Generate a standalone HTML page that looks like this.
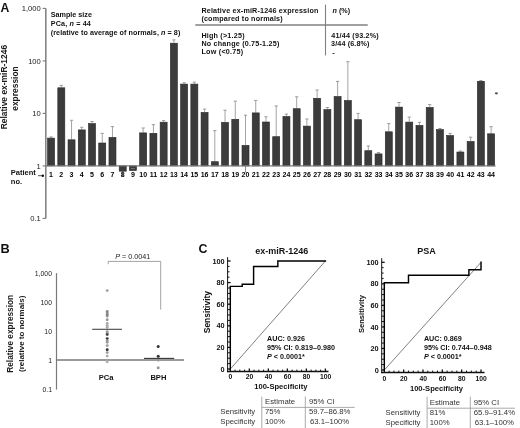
<!DOCTYPE html>
<html><head><meta charset="utf-8"><style>
html,body{margin:0;padding:0;background:#fff;}
body{width:520px;height:428px;overflow:hidden;}
svg{display:block;font-family:"Liberation Sans", sans-serif;will-change:transform;}
</style></head><body>
<svg width="520" height="428" viewBox="0 0 520 428">
<rect width="520" height="428" fill="#fff"/>
<text x="0.50" y="11.80" font-size="12.2" font-weight="bold" text-anchor="start" fill="#111" >A</text>
<line x1="45.80" y1="8.40" x2="45.80" y2="218.40" stroke="#858585" stroke-width="1.6" />
<line x1="42.60" y1="8.40" x2="45.80" y2="8.40" stroke="#7a7a7a" stroke-width="1.1" />
<text x="40.80" y="11.30" font-size="7.6" font-weight="normal" text-anchor="end" fill="#1a1a1a" >1,000</text>
<line x1="42.60" y1="60.90" x2="45.80" y2="60.90" stroke="#7a7a7a" stroke-width="1.1" />
<text x="40.80" y="63.80" font-size="7.6" font-weight="normal" text-anchor="end" fill="#1a1a1a" >100</text>
<line x1="42.60" y1="113.40" x2="45.80" y2="113.40" stroke="#7a7a7a" stroke-width="1.1" />
<text x="40.80" y="116.30" font-size="7.6" font-weight="normal" text-anchor="end" fill="#1a1a1a" >10</text>
<line x1="42.60" y1="165.90" x2="45.80" y2="165.90" stroke="#7a7a7a" stroke-width="1.1" />
<text x="40.80" y="168.80" font-size="7.6" font-weight="normal" text-anchor="end" fill="#1a1a1a" >1</text>
<line x1="42.60" y1="218.40" x2="45.80" y2="218.40" stroke="#7a7a7a" stroke-width="1.1" />
<text x="40.80" y="221.30" font-size="7.6" font-weight="normal" text-anchor="end" fill="#1a1a1a" >0.1</text>
<text transform="translate(7.2,87.1) rotate(-90)" font-size="8.45" font-weight="bold" text-anchor="middle" fill="#1a1a1a">Relative ex-miR-1246</text>
<text transform="translate(17.5,88.5) rotate(-90)" font-size="8.45" font-weight="bold" text-anchor="middle" fill="#1a1a1a">expression</text>
<line x1="51.07" y1="137.80" x2="51.07" y2="136.90" stroke="#9a9a9a" stroke-width="0.9" />
<line x1="49.47" y1="136.90" x2="52.67" y2="136.90" stroke="#9a9a9a" stroke-width="1.0" />
<rect x="47.57" y="138.10" width="7.0" height="27.80" fill="#3c3c3c" stroke="#262626" stroke-width="0.6"/>
<text x="51.07" y="177.00" font-size="7.0" font-weight="bold" text-anchor="middle" fill="#000" >1</text>
<line x1="61.31" y1="87.50" x2="61.31" y2="85.40" stroke="#9a9a9a" stroke-width="0.9" />
<line x1="59.71" y1="85.40" x2="62.91" y2="85.40" stroke="#9a9a9a" stroke-width="1.0" />
<rect x="57.81" y="87.80" width="7.0" height="78.10" fill="#3c3c3c" stroke="#262626" stroke-width="0.6"/>
<text x="61.31" y="177.00" font-size="7.0" font-weight="bold" text-anchor="middle" fill="#000" >2</text>
<line x1="71.54" y1="139.50" x2="71.54" y2="120.30" stroke="#9a9a9a" stroke-width="0.9" />
<line x1="69.94" y1="120.30" x2="73.14" y2="120.30" stroke="#9a9a9a" stroke-width="1.0" />
<rect x="68.04" y="139.80" width="7.0" height="26.10" fill="#3c3c3c" stroke="#262626" stroke-width="0.6"/>
<text x="71.54" y="177.00" font-size="7.0" font-weight="bold" text-anchor="middle" fill="#000" >3</text>
<line x1="81.77" y1="129.60" x2="81.77" y2="127.30" stroke="#9a9a9a" stroke-width="0.9" />
<line x1="80.17" y1="127.30" x2="83.37" y2="127.30" stroke="#9a9a9a" stroke-width="1.0" />
<rect x="78.27" y="129.90" width="7.0" height="36.00" fill="#3c3c3c" stroke="#262626" stroke-width="0.6"/>
<text x="81.77" y="177.00" font-size="7.0" font-weight="bold" text-anchor="middle" fill="#000" >4</text>
<line x1="92.01" y1="123.30" x2="92.01" y2="121.50" stroke="#9a9a9a" stroke-width="0.9" />
<line x1="90.41" y1="121.50" x2="93.61" y2="121.50" stroke="#9a9a9a" stroke-width="1.0" />
<rect x="88.51" y="123.60" width="7.0" height="42.30" fill="#3c3c3c" stroke="#262626" stroke-width="0.6"/>
<text x="92.01" y="177.00" font-size="7.0" font-weight="bold" text-anchor="middle" fill="#000" >5</text>
<line x1="102.24" y1="142.70" x2="102.24" y2="133.40" stroke="#9a9a9a" stroke-width="0.9" />
<line x1="100.64" y1="133.40" x2="103.84" y2="133.40" stroke="#9a9a9a" stroke-width="1.0" />
<rect x="98.74" y="143.00" width="7.0" height="22.90" fill="#3c3c3c" stroke="#262626" stroke-width="0.6"/>
<text x="102.24" y="177.00" font-size="7.0" font-weight="bold" text-anchor="middle" fill="#000" >6</text>
<line x1="112.47" y1="137.10" x2="112.47" y2="126.60" stroke="#9a9a9a" stroke-width="0.9" />
<line x1="110.87" y1="126.60" x2="114.07" y2="126.60" stroke="#9a9a9a" stroke-width="1.0" />
<rect x="108.97" y="137.40" width="7.0" height="28.50" fill="#3c3c3c" stroke="#262626" stroke-width="0.6"/>
<text x="112.47" y="177.00" font-size="7.0" font-weight="bold" text-anchor="middle" fill="#000" >7</text>
<rect x="119.21" y="165.90" width="7.0" height="5.30" fill="#3c3c3c" stroke="#262626" stroke-width="0.6"/>
<text x="122.71" y="177.00" font-size="7.0" font-weight="bold" text-anchor="middle" fill="#000" >8</text>
<rect x="129.44" y="165.90" width="7.0" height="4.60" fill="#3c3c3c" stroke="#262626" stroke-width="0.6"/>
<line x1="131.14" y1="168.60" x2="134.74" y2="168.60" stroke="#8a8a8a" stroke-width="0.8" />
<text x="132.94" y="177.00" font-size="7.0" font-weight="bold" text-anchor="middle" fill="#000" >9</text>
<line x1="143.18" y1="132.60" x2="143.18" y2="128.00" stroke="#9a9a9a" stroke-width="0.9" />
<line x1="141.58" y1="128.00" x2="144.78" y2="128.00" stroke="#9a9a9a" stroke-width="1.0" />
<rect x="139.68" y="132.90" width="7.0" height="33.00" fill="#3c3c3c" stroke="#262626" stroke-width="0.6"/>
<text x="143.18" y="177.00" font-size="7.0" font-weight="bold" text-anchor="middle" fill="#000" >10</text>
<line x1="153.41" y1="133.00" x2="153.41" y2="124.70" stroke="#9a9a9a" stroke-width="0.9" />
<line x1="151.81" y1="124.70" x2="155.01" y2="124.70" stroke="#9a9a9a" stroke-width="1.0" />
<rect x="149.91" y="133.30" width="7.0" height="32.60" fill="#3c3c3c" stroke="#262626" stroke-width="0.6"/>
<text x="153.41" y="177.00" font-size="7.0" font-weight="bold" text-anchor="middle" fill="#000" >11</text>
<line x1="163.64" y1="121.90" x2="163.64" y2="120.60" stroke="#9a9a9a" stroke-width="0.9" />
<line x1="162.04" y1="120.60" x2="165.24" y2="120.60" stroke="#9a9a9a" stroke-width="1.0" />
<rect x="160.14" y="122.20" width="7.0" height="43.70" fill="#3c3c3c" stroke="#262626" stroke-width="0.6"/>
<text x="163.64" y="177.00" font-size="7.0" font-weight="bold" text-anchor="middle" fill="#000" >12</text>
<line x1="173.88" y1="42.90" x2="173.88" y2="39.90" stroke="#9a9a9a" stroke-width="0.9" />
<line x1="172.28" y1="39.90" x2="175.48" y2="39.90" stroke="#9a9a9a" stroke-width="1.0" />
<rect x="170.38" y="43.20" width="7.0" height="122.70" fill="#3c3c3c" stroke="#262626" stroke-width="0.6"/>
<text x="173.88" y="177.00" font-size="7.0" font-weight="bold" text-anchor="middle" fill="#000" >13</text>
<line x1="184.11" y1="83.80" x2="184.11" y2="82.80" stroke="#9a9a9a" stroke-width="0.9" />
<line x1="182.51" y1="82.80" x2="185.71" y2="82.80" stroke="#9a9a9a" stroke-width="1.0" />
<rect x="180.61" y="84.10" width="7.0" height="81.80" fill="#3c3c3c" stroke="#262626" stroke-width="0.6"/>
<text x="184.11" y="177.00" font-size="7.0" font-weight="bold" text-anchor="middle" fill="#000" >14</text>
<line x1="194.34" y1="83.80" x2="194.34" y2="82.10" stroke="#9a9a9a" stroke-width="0.9" />
<line x1="192.74" y1="82.10" x2="195.94" y2="82.10" stroke="#9a9a9a" stroke-width="1.0" />
<rect x="190.84" y="84.10" width="7.0" height="81.80" fill="#3c3c3c" stroke="#262626" stroke-width="0.6"/>
<text x="194.34" y="177.00" font-size="7.0" font-weight="bold" text-anchor="middle" fill="#000" >15</text>
<line x1="204.58" y1="112.10" x2="204.58" y2="109.10" stroke="#9a9a9a" stroke-width="0.9" />
<line x1="202.98" y1="109.10" x2="206.18" y2="109.10" stroke="#9a9a9a" stroke-width="1.0" />
<rect x="201.08" y="112.40" width="7.0" height="53.50" fill="#3c3c3c" stroke="#262626" stroke-width="0.6"/>
<text x="204.58" y="177.00" font-size="7.0" font-weight="bold" text-anchor="middle" fill="#000" >16</text>
<line x1="214.81" y1="161.40" x2="214.81" y2="130.60" stroke="#9a9a9a" stroke-width="0.9" />
<line x1="213.21" y1="130.60" x2="216.41" y2="130.60" stroke="#9a9a9a" stroke-width="1.0" />
<rect x="211.31" y="161.70" width="7.0" height="4.20" fill="#3c3c3c" stroke="#262626" stroke-width="0.6"/>
<text x="214.81" y="177.00" font-size="7.0" font-weight="bold" text-anchor="middle" fill="#000" >17</text>
<line x1="225.04" y1="122.10" x2="225.04" y2="110.20" stroke="#9a9a9a" stroke-width="0.9" />
<line x1="223.44" y1="110.20" x2="226.64" y2="110.20" stroke="#9a9a9a" stroke-width="1.0" />
<rect x="221.54" y="122.40" width="7.0" height="43.50" fill="#3c3c3c" stroke="#262626" stroke-width="0.6"/>
<text x="225.04" y="177.00" font-size="7.0" font-weight="bold" text-anchor="middle" fill="#000" >18</text>
<line x1="235.28" y1="119.00" x2="235.28" y2="101.20" stroke="#9a9a9a" stroke-width="0.9" />
<line x1="233.68" y1="101.20" x2="236.88" y2="101.20" stroke="#9a9a9a" stroke-width="1.0" />
<rect x="231.78" y="119.30" width="7.0" height="46.60" fill="#3c3c3c" stroke="#262626" stroke-width="0.6"/>
<text x="235.28" y="177.00" font-size="7.0" font-weight="bold" text-anchor="middle" fill="#000" >19</text>
<line x1="245.51" y1="145.10" x2="245.51" y2="115.20" stroke="#9a9a9a" stroke-width="0.9" />
<line x1="243.91" y1="115.20" x2="247.11" y2="115.20" stroke="#9a9a9a" stroke-width="1.0" />
<rect x="242.01" y="145.40" width="7.0" height="20.50" fill="#3c3c3c" stroke="#262626" stroke-width="0.6"/>
<text x="245.51" y="177.00" font-size="7.0" font-weight="bold" text-anchor="middle" fill="#000" >20</text>
<line x1="255.74" y1="112.60" x2="255.74" y2="100.40" stroke="#9a9a9a" stroke-width="0.9" />
<line x1="254.14" y1="100.40" x2="257.34" y2="100.40" stroke="#9a9a9a" stroke-width="1.0" />
<rect x="252.24" y="112.90" width="7.0" height="53.00" fill="#3c3c3c" stroke="#262626" stroke-width="0.6"/>
<text x="255.74" y="177.00" font-size="7.0" font-weight="bold" text-anchor="middle" fill="#000" >21</text>
<line x1="265.98" y1="121.70" x2="265.98" y2="116.80" stroke="#9a9a9a" stroke-width="0.9" />
<line x1="264.38" y1="116.80" x2="267.58" y2="116.80" stroke="#9a9a9a" stroke-width="1.0" />
<rect x="262.48" y="122.00" width="7.0" height="43.90" fill="#3c3c3c" stroke="#262626" stroke-width="0.6"/>
<text x="265.98" y="177.00" font-size="7.0" font-weight="bold" text-anchor="middle" fill="#000" >22</text>
<line x1="276.21" y1="136.40" x2="276.21" y2="105.90" stroke="#9a9a9a" stroke-width="0.9" />
<line x1="274.61" y1="105.90" x2="277.81" y2="105.90" stroke="#9a9a9a" stroke-width="1.0" />
<rect x="272.71" y="136.70" width="7.0" height="29.20" fill="#3c3c3c" stroke="#262626" stroke-width="0.6"/>
<text x="276.21" y="177.00" font-size="7.0" font-weight="bold" text-anchor="middle" fill="#000" >23</text>
<line x1="286.44" y1="116.20" x2="286.44" y2="114.10" stroke="#9a9a9a" stroke-width="0.9" />
<line x1="284.84" y1="114.10" x2="288.04" y2="114.10" stroke="#9a9a9a" stroke-width="1.0" />
<rect x="282.94" y="116.50" width="7.0" height="49.40" fill="#3c3c3c" stroke="#262626" stroke-width="0.6"/>
<text x="286.44" y="177.00" font-size="7.0" font-weight="bold" text-anchor="middle" fill="#000" >24</text>
<line x1="296.68" y1="108.40" x2="296.68" y2="96.80" stroke="#9a9a9a" stroke-width="0.9" />
<line x1="295.08" y1="96.80" x2="298.28" y2="96.80" stroke="#9a9a9a" stroke-width="1.0" />
<rect x="293.18" y="108.70" width="7.0" height="57.20" fill="#3c3c3c" stroke="#262626" stroke-width="0.6"/>
<text x="296.68" y="177.00" font-size="7.0" font-weight="bold" text-anchor="middle" fill="#000" >25</text>
<line x1="306.91" y1="125.80" x2="306.91" y2="119.00" stroke="#9a9a9a" stroke-width="0.9" />
<line x1="305.31" y1="119.00" x2="308.51" y2="119.00" stroke="#9a9a9a" stroke-width="1.0" />
<rect x="303.41" y="126.10" width="7.0" height="39.80" fill="#3c3c3c" stroke="#262626" stroke-width="0.6"/>
<text x="306.91" y="177.00" font-size="7.0" font-weight="bold" text-anchor="middle" fill="#000" >26</text>
<line x1="317.14" y1="98.00" x2="317.14" y2="90.00" stroke="#9a9a9a" stroke-width="0.9" />
<line x1="315.54" y1="90.00" x2="318.74" y2="90.00" stroke="#9a9a9a" stroke-width="1.0" />
<rect x="313.64" y="98.30" width="7.0" height="67.60" fill="#3c3c3c" stroke="#262626" stroke-width="0.6"/>
<text x="317.14" y="177.00" font-size="7.0" font-weight="bold" text-anchor="middle" fill="#000" >27</text>
<line x1="327.38" y1="109.30" x2="327.38" y2="107.50" stroke="#9a9a9a" stroke-width="0.9" />
<line x1="325.78" y1="107.50" x2="328.98" y2="107.50" stroke="#9a9a9a" stroke-width="1.0" />
<rect x="323.88" y="109.60" width="7.0" height="56.30" fill="#3c3c3c" stroke="#262626" stroke-width="0.6"/>
<text x="327.38" y="177.00" font-size="7.0" font-weight="bold" text-anchor="middle" fill="#000" >28</text>
<line x1="337.61" y1="96.20" x2="337.61" y2="81.40" stroke="#9a9a9a" stroke-width="0.9" />
<line x1="336.01" y1="81.40" x2="339.21" y2="81.40" stroke="#9a9a9a" stroke-width="1.0" />
<rect x="334.11" y="96.50" width="7.0" height="69.40" fill="#3c3c3c" stroke="#262626" stroke-width="0.6"/>
<text x="337.61" y="177.00" font-size="7.0" font-weight="bold" text-anchor="middle" fill="#000" >29</text>
<line x1="347.85" y1="100.20" x2="347.85" y2="61.70" stroke="#9a9a9a" stroke-width="0.9" />
<line x1="346.25" y1="61.70" x2="349.45" y2="61.70" stroke="#9a9a9a" stroke-width="1.0" />
<rect x="344.35" y="100.50" width="7.0" height="65.40" fill="#3c3c3c" stroke="#262626" stroke-width="0.6"/>
<text x="347.85" y="177.00" font-size="7.0" font-weight="bold" text-anchor="middle" fill="#000" >30</text>
<line x1="358.08" y1="119.40" x2="358.08" y2="113.40" stroke="#9a9a9a" stroke-width="0.9" />
<line x1="356.48" y1="113.40" x2="359.68" y2="113.40" stroke="#9a9a9a" stroke-width="1.0" />
<rect x="354.58" y="119.70" width="7.0" height="46.20" fill="#3c3c3c" stroke="#262626" stroke-width="0.6"/>
<text x="358.08" y="177.00" font-size="7.0" font-weight="bold" text-anchor="middle" fill="#000" >31</text>
<line x1="368.31" y1="150.40" x2="368.31" y2="146.00" stroke="#9a9a9a" stroke-width="0.9" />
<line x1="366.71" y1="146.00" x2="369.91" y2="146.00" stroke="#9a9a9a" stroke-width="1.0" />
<rect x="364.81" y="150.70" width="7.0" height="15.20" fill="#3c3c3c" stroke="#262626" stroke-width="0.6"/>
<text x="368.31" y="177.00" font-size="7.0" font-weight="bold" text-anchor="middle" fill="#000" >32</text>
<line x1="378.55" y1="153.60" x2="378.55" y2="152.60" stroke="#9a9a9a" stroke-width="0.9" />
<line x1="376.95" y1="152.60" x2="380.15" y2="152.60" stroke="#9a9a9a" stroke-width="1.0" />
<rect x="375.05" y="153.90" width="7.0" height="12.00" fill="#3c3c3c" stroke="#262626" stroke-width="0.6"/>
<text x="378.55" y="177.00" font-size="7.0" font-weight="bold" text-anchor="middle" fill="#000" >33</text>
<line x1="388.78" y1="131.50" x2="388.78" y2="123.60" stroke="#9a9a9a" stroke-width="0.9" />
<line x1="387.18" y1="123.60" x2="390.38" y2="123.60" stroke="#9a9a9a" stroke-width="1.0" />
<rect x="385.28" y="131.80" width="7.0" height="34.10" fill="#3c3c3c" stroke="#262626" stroke-width="0.6"/>
<text x="388.78" y="177.00" font-size="7.0" font-weight="bold" text-anchor="middle" fill="#000" >34</text>
<line x1="399.01" y1="106.80" x2="399.01" y2="102.50" stroke="#9a9a9a" stroke-width="0.9" />
<line x1="397.41" y1="102.50" x2="400.61" y2="102.50" stroke="#9a9a9a" stroke-width="1.0" />
<rect x="395.51" y="107.10" width="7.0" height="58.80" fill="#3c3c3c" stroke="#262626" stroke-width="0.6"/>
<text x="399.01" y="177.00" font-size="7.0" font-weight="bold" text-anchor="middle" fill="#000" >35</text>
<line x1="409.25" y1="121.80" x2="409.25" y2="117.10" stroke="#9a9a9a" stroke-width="0.9" />
<line x1="407.65" y1="117.10" x2="410.85" y2="117.10" stroke="#9a9a9a" stroke-width="1.0" />
<rect x="405.75" y="122.10" width="7.0" height="43.80" fill="#3c3c3c" stroke="#262626" stroke-width="0.6"/>
<text x="409.25" y="177.00" font-size="7.0" font-weight="bold" text-anchor="middle" fill="#000" >36</text>
<line x1="419.48" y1="125.10" x2="419.48" y2="122.30" stroke="#9a9a9a" stroke-width="0.9" />
<line x1="417.88" y1="122.30" x2="421.08" y2="122.30" stroke="#9a9a9a" stroke-width="1.0" />
<rect x="415.98" y="125.40" width="7.0" height="40.50" fill="#3c3c3c" stroke="#262626" stroke-width="0.6"/>
<text x="419.48" y="177.00" font-size="7.0" font-weight="bold" text-anchor="middle" fill="#000" >37</text>
<line x1="429.71" y1="107.20" x2="429.71" y2="104.60" stroke="#9a9a9a" stroke-width="0.9" />
<line x1="428.11" y1="104.60" x2="431.31" y2="104.60" stroke="#9a9a9a" stroke-width="1.0" />
<rect x="426.21" y="107.50" width="7.0" height="58.40" fill="#3c3c3c" stroke="#262626" stroke-width="0.6"/>
<text x="429.71" y="177.00" font-size="7.0" font-weight="bold" text-anchor="middle" fill="#000" >38</text>
<line x1="439.95" y1="129.30" x2="439.95" y2="128.50" stroke="#9a9a9a" stroke-width="0.9" />
<line x1="438.35" y1="128.50" x2="441.55" y2="128.50" stroke="#9a9a9a" stroke-width="1.0" />
<rect x="436.45" y="129.60" width="7.0" height="36.30" fill="#3c3c3c" stroke="#262626" stroke-width="0.6"/>
<text x="439.95" y="177.00" font-size="7.0" font-weight="bold" text-anchor="middle" fill="#000" >39</text>
<line x1="450.18" y1="135.20" x2="450.18" y2="133.40" stroke="#9a9a9a" stroke-width="0.9" />
<line x1="448.58" y1="133.40" x2="451.78" y2="133.40" stroke="#9a9a9a" stroke-width="1.0" />
<rect x="446.68" y="135.50" width="7.0" height="30.40" fill="#3c3c3c" stroke="#262626" stroke-width="0.6"/>
<text x="450.18" y="177.00" font-size="7.0" font-weight="bold" text-anchor="middle" fill="#000" >40</text>
<line x1="460.41" y1="151.70" x2="460.41" y2="151.00" stroke="#9a9a9a" stroke-width="0.9" />
<line x1="458.81" y1="151.00" x2="462.01" y2="151.00" stroke="#9a9a9a" stroke-width="1.0" />
<rect x="456.91" y="152.00" width="7.0" height="13.90" fill="#3c3c3c" stroke="#262626" stroke-width="0.6"/>
<text x="460.41" y="177.00" font-size="7.0" font-weight="bold" text-anchor="middle" fill="#000" >41</text>
<line x1="470.65" y1="141.20" x2="470.65" y2="137.20" stroke="#9a9a9a" stroke-width="0.9" />
<line x1="469.05" y1="137.20" x2="472.25" y2="137.20" stroke="#9a9a9a" stroke-width="1.0" />
<rect x="467.15" y="141.50" width="7.0" height="24.40" fill="#3c3c3c" stroke="#262626" stroke-width="0.6"/>
<text x="470.65" y="177.00" font-size="7.0" font-weight="bold" text-anchor="middle" fill="#000" >42</text>
<line x1="479.28" y1="80.50" x2="482.48" y2="80.50" stroke="#9a9a9a" stroke-width="1.0" />
<rect x="477.38" y="81.30" width="7.0" height="84.60" fill="#3c3c3c" stroke="#262626" stroke-width="0.6"/>
<text x="480.88" y="177.00" font-size="7.0" font-weight="bold" text-anchor="middle" fill="#000" >43</text>
<line x1="491.11" y1="133.50" x2="491.11" y2="126.70" stroke="#9a9a9a" stroke-width="0.9" />
<line x1="489.51" y1="126.70" x2="492.71" y2="126.70" stroke="#9a9a9a" stroke-width="1.0" />
<rect x="487.61" y="133.80" width="7.0" height="32.10" fill="#3c3c3c" stroke="#262626" stroke-width="0.6"/>
<text x="491.11" y="177.00" font-size="7.0" font-weight="bold" text-anchor="middle" fill="#000" >44</text>
<line x1="122.71" y1="171.30" x2="122.71" y2="176.20" stroke="#444" stroke-width="1.0" />
<line x1="245.51" y1="165.90" x2="245.51" y2="172.60" stroke="#808080" stroke-width="0.9" />
<line x1="45.80" y1="165.90" x2="495.60" y2="165.90" stroke="#7a7a7a" stroke-width="1.3" />
<text x="10.80" y="175.30" font-size="7.5" font-weight="bold" text-anchor="start" fill="#111" >Patient</text>
<text x="10.80" y="184.10" font-size="7.5" font-weight="bold" text-anchor="start" fill="#111" >no.</text>
<line x1="38.00" y1="175.70" x2="42.40" y2="175.70" stroke="#555" stroke-width="1.0" />
<circle cx="42.8" cy="175.8" r="1.25" fill="#111"/>
<ellipse cx="496.4" cy="93.3" rx="1.6" ry="1.1" fill="#555"/>
<text x="50.80" y="16.90" font-size="7.2" font-weight="bold" text-anchor="start" fill="#111" >Sample size</text>
<text x="50.80" y="25.70" font-size="7.2" font-weight="bold" text-anchor="start" fill="#111" letter-spacing="0.15">PCa, <tspan font-style="italic">n</tspan> = 44</text>
<text x="50.80" y="34.60" font-size="7.2" font-weight="bold" text-anchor="start" fill="#111" letter-spacing="0.06">(relative to average of normals, <tspan font-style="italic">n</tspan> = 8)</text>
<text x="201.40" y="12.60" font-size="7.2" font-weight="bold" text-anchor="start" fill="#111" letter-spacing="0.17">Relative ex-miR-1246 expression</text>
<text x="201.40" y="20.60" font-size="7.2" font-weight="bold" text-anchor="start" fill="#111" letter-spacing="0.17">(compared to normals)</text>
<text x="332.60" y="13.10" font-size="7.2" font-weight="bold" text-anchor="start" fill="#111" ><tspan font-style="italic">n</tspan> (%)</text>
<line x1="195.30" y1="25.00" x2="367.70" y2="25.00" stroke="#808080" stroke-width="1.4" />
<line x1="325.50" y1="4.60" x2="325.50" y2="55.40" stroke="#808080" stroke-width="1.1" />
<text x="201.40" y="37.90" font-size="7.2" font-weight="bold" text-anchor="start" fill="#111" letter-spacing="0.2">High (&gt;1.25)</text>
<text x="201.40" y="46.10" font-size="7.2" font-weight="bold" text-anchor="start" fill="#111" letter-spacing="0.2">No change (0.75-1.25)</text>
<text x="201.40" y="54.30" font-size="7.2" font-weight="bold" text-anchor="start" fill="#111" letter-spacing="0.25">Low (&lt;0.75)</text>
<text x="331.20" y="38.20" font-size="7.2" font-weight="bold" text-anchor="start" fill="#111" letter-spacing="0.2">41/44 (93.2%)</text>
<text x="331.00" y="46.40" font-size="7.2" font-weight="bold" text-anchor="start" fill="#111" letter-spacing="0.13">3/44 (6.8%)</text>
<text x="332.20" y="54.60" font-size="7.2" font-weight="bold" text-anchor="start" fill="#111" >-</text>
<text x="0.60" y="252.80" font-size="12.8" font-weight="bold" text-anchor="start" fill="#111" >B</text>
<line x1="56.50" y1="273.10" x2="56.50" y2="389.60" stroke="#7a7a7a" stroke-width="1.2" />
<text x="52.00" y="276.10" font-size="6.9" font-weight="normal" text-anchor="end" fill="#1e1e1e" >1,000</text>
<text x="52.00" y="305.10" font-size="6.9" font-weight="normal" text-anchor="end" fill="#1e1e1e" >100</text>
<text x="52.00" y="334.10" font-size="6.9" font-weight="normal" text-anchor="end" fill="#1e1e1e" >10</text>
<text x="52.00" y="363.10" font-size="6.9" font-weight="normal" text-anchor="end" fill="#1e1e1e" >1</text>
<text x="52.00" y="392.10" font-size="6.9" font-weight="normal" text-anchor="end" fill="#1e1e1e" >0.1</text>
<line x1="56.50" y1="360.00" x2="184.00" y2="360.00" stroke="#7a7a7a" stroke-width="1.3" />
<text transform="translate(13.0,333.8) rotate(-90)" font-size="8.3" font-weight="bold" text-anchor="middle" fill="#1a1a1a">Relative expression</text>
<text transform="translate(24.2,333.8) rotate(-90)" font-size="8.0" font-weight="bold" text-anchor="middle" fill="#1a1a1a">(relative to normals)</text>
<circle cx="107.2" cy="290.6" r="1.45" fill="#a0a0a0"/>
<circle cx="107.2" cy="311.5" r="1.45" fill="#8a8a8a"/>
<circle cx="107.2" cy="313.0" r="1.45" fill="#8a8a8a"/>
<circle cx="107.2" cy="314.5" r="1.45" fill="#8a8a8a"/>
<circle cx="107.2" cy="316.0" r="1.45" fill="#8a8a8a"/>
<circle cx="107.2" cy="319.7" r="1.45" fill="#999"/>
<circle cx="107.2" cy="323.5" r="1.45" fill="#aaa"/>
<circle cx="107.2" cy="325.5" r="1.45" fill="#aaa"/>
<circle cx="107.2" cy="327.3" r="1.45" fill="#aaa"/>
<circle cx="107.2" cy="331.6" r="1.45" fill="#999"/>
<circle cx="107.2" cy="333.2" r="1.45" fill="#999"/>
<circle cx="107.2" cy="334.6" r="1.45" fill="#444"/>
<circle cx="107.2" cy="338.6" r="1.45" fill="#333"/>
<circle cx="107.2" cy="340.7" r="1.45" fill="#999"/>
<circle cx="107.2" cy="342.2" r="1.45" fill="#999"/>
<circle cx="107.2" cy="345.6" r="1.45" fill="#999"/>
<circle cx="107.2" cy="349.8" r="1.45" fill="#333"/>
<circle cx="107.2" cy="352.6" r="1.45" fill="#999"/>
<circle cx="107.2" cy="356.1" r="1.45" fill="#aaa"/>
<circle cx="107.2" cy="361.7" r="1.45" fill="#b0b0b0"/>
<line x1="92.20" y1="329.30" x2="121.90" y2="329.30" stroke="#444" stroke-width="1.1" />
<circle cx="158.2" cy="346.4" r="1.5" fill="#333"/>
<circle cx="158.2" cy="356.2" r="1.5" fill="#333"/>
<circle cx="158.2" cy="360.1" r="1.5" fill="#999"/>
<circle cx="158.2" cy="367.7" r="1.5" fill="#999"/>
<line x1="144.00" y1="358.40" x2="174.20" y2="358.40" stroke="#333" stroke-width="1.1" />
<polyline points="108.2,264.2 108.2,261.4 160.7,261.4 160.7,309.6" fill="none" stroke="#999" stroke-width="0.9"/>
<text x="115.20" y="258.80" font-size="7.2" font-weight="normal" text-anchor="start" fill="#222" ><tspan font-style="italic">P</tspan> = 0.0041</text>
<text x="106.10" y="379.80" font-size="7.6" font-weight="bold" text-anchor="middle" fill="#111" >PCa</text>
<text x="158.40" y="379.80" font-size="7.6" font-weight="bold" text-anchor="middle" fill="#111" >BPH</text>
<text x="198.40" y="253.00" font-size="12.4" font-weight="bold" text-anchor="start" fill="#111" >C</text>
<text x="281.80" y="254.00" font-size="9.0" font-weight="bold" text-anchor="middle" fill="#111" >ex-miR-1246</text>
<line x1="227.60" y1="257.20" x2="227.60" y2="372.20" stroke="#111" stroke-width="1.0" />
<line x1="227.10" y1="371.50" x2="328.50" y2="371.50" stroke="#111" stroke-width="1.5" />
<line x1="227.60" y1="369.00" x2="230.60" y2="369.00" stroke="#111" stroke-width="1.3" />
<line x1="230.30" y1="371.50" x2="230.30" y2="368.50" stroke="#111" stroke-width="1.3" />
<line x1="227.60" y1="363.60" x2="230.30" y2="363.60" stroke="#111" stroke-width="1.0" />
<line x1="235.06" y1="371.50" x2="235.06" y2="369.60" stroke="#111" stroke-width="1.0" />
<line x1="227.60" y1="358.20" x2="230.30" y2="358.20" stroke="#111" stroke-width="1.0" />
<line x1="239.81" y1="371.50" x2="239.81" y2="369.60" stroke="#111" stroke-width="1.0" />
<line x1="227.60" y1="352.80" x2="230.30" y2="352.80" stroke="#111" stroke-width="1.0" />
<line x1="244.56" y1="371.50" x2="244.56" y2="369.60" stroke="#111" stroke-width="1.0" />
<line x1="227.60" y1="347.40" x2="230.60" y2="347.40" stroke="#111" stroke-width="1.3" />
<line x1="249.32" y1="371.50" x2="249.32" y2="368.50" stroke="#111" stroke-width="1.3" />
<line x1="227.60" y1="342.00" x2="230.30" y2="342.00" stroke="#111" stroke-width="1.0" />
<line x1="254.08" y1="371.50" x2="254.08" y2="369.60" stroke="#111" stroke-width="1.0" />
<line x1="227.60" y1="336.60" x2="230.30" y2="336.60" stroke="#111" stroke-width="1.0" />
<line x1="258.83" y1="371.50" x2="258.83" y2="369.60" stroke="#111" stroke-width="1.0" />
<line x1="227.60" y1="331.20" x2="230.30" y2="331.20" stroke="#111" stroke-width="1.0" />
<line x1="263.59" y1="371.50" x2="263.59" y2="369.60" stroke="#111" stroke-width="1.0" />
<line x1="227.60" y1="325.80" x2="230.60" y2="325.80" stroke="#111" stroke-width="1.3" />
<line x1="268.34" y1="371.50" x2="268.34" y2="368.50" stroke="#111" stroke-width="1.3" />
<line x1="227.60" y1="320.40" x2="230.30" y2="320.40" stroke="#111" stroke-width="1.0" />
<line x1="273.10" y1="371.50" x2="273.10" y2="369.60" stroke="#111" stroke-width="1.0" />
<line x1="227.60" y1="315.00" x2="230.30" y2="315.00" stroke="#111" stroke-width="1.0" />
<line x1="277.85" y1="371.50" x2="277.85" y2="369.60" stroke="#111" stroke-width="1.0" />
<line x1="227.60" y1="309.60" x2="230.30" y2="309.60" stroke="#111" stroke-width="1.0" />
<line x1="282.61" y1="371.50" x2="282.61" y2="369.60" stroke="#111" stroke-width="1.0" />
<line x1="227.60" y1="304.20" x2="230.60" y2="304.20" stroke="#111" stroke-width="1.3" />
<line x1="287.36" y1="371.50" x2="287.36" y2="368.50" stroke="#111" stroke-width="1.3" />
<line x1="227.60" y1="298.80" x2="230.30" y2="298.80" stroke="#111" stroke-width="1.0" />
<line x1="292.12" y1="371.50" x2="292.12" y2="369.60" stroke="#111" stroke-width="1.0" />
<line x1="227.60" y1="293.40" x2="230.30" y2="293.40" stroke="#111" stroke-width="1.0" />
<line x1="296.87" y1="371.50" x2="296.87" y2="369.60" stroke="#111" stroke-width="1.0" />
<line x1="227.60" y1="288.00" x2="230.30" y2="288.00" stroke="#111" stroke-width="1.0" />
<line x1="301.62" y1="371.50" x2="301.62" y2="369.60" stroke="#111" stroke-width="1.0" />
<line x1="227.60" y1="282.60" x2="230.60" y2="282.60" stroke="#111" stroke-width="1.3" />
<line x1="306.38" y1="371.50" x2="306.38" y2="368.50" stroke="#111" stroke-width="1.3" />
<line x1="227.60" y1="277.20" x2="229.50" y2="277.20" stroke="#111" stroke-width="1.0" />
<line x1="311.13" y1="371.50" x2="311.13" y2="369.60" stroke="#111" stroke-width="1.0" />
<line x1="227.60" y1="271.80" x2="229.50" y2="271.80" stroke="#111" stroke-width="1.0" />
<line x1="315.89" y1="371.50" x2="315.89" y2="369.60" stroke="#111" stroke-width="1.0" />
<line x1="227.60" y1="266.40" x2="229.50" y2="266.40" stroke="#111" stroke-width="1.0" />
<line x1="320.64" y1="371.50" x2="320.64" y2="369.60" stroke="#111" stroke-width="1.0" />
<line x1="227.60" y1="261.00" x2="230.60" y2="261.00" stroke="#111" stroke-width="1.3" />
<line x1="325.40" y1="371.50" x2="325.40" y2="368.50" stroke="#111" stroke-width="1.3" />
<text x="224.60" y="371.60" font-size="7.3" font-weight="bold" text-anchor="end" fill="#111" >0</text>
<text x="230.50" y="379.20" font-size="6.8" font-weight="bold" text-anchor="middle" fill="#111" >0</text>
<text x="224.60" y="350.00" font-size="7.3" font-weight="bold" text-anchor="end" fill="#111" >20</text>
<text x="249.52" y="379.20" font-size="6.8" font-weight="bold" text-anchor="middle" fill="#111" >20</text>
<text x="224.60" y="328.40" font-size="7.3" font-weight="bold" text-anchor="end" fill="#111" >40</text>
<text x="268.54" y="379.20" font-size="6.8" font-weight="bold" text-anchor="middle" fill="#111" >40</text>
<text x="224.60" y="306.80" font-size="7.3" font-weight="bold" text-anchor="end" fill="#111" >60</text>
<text x="287.56" y="379.20" font-size="6.8" font-weight="bold" text-anchor="middle" fill="#111" >60</text>
<text x="224.60" y="285.20" font-size="7.3" font-weight="bold" text-anchor="end" fill="#111" >80</text>
<text x="306.58" y="379.20" font-size="6.8" font-weight="bold" text-anchor="middle" fill="#111" >80</text>
<text x="224.60" y="263.60" font-size="7.3" font-weight="bold" text-anchor="end" fill="#111" >100</text>
<text x="325.60" y="379.20" font-size="6.8" font-weight="bold" text-anchor="middle" fill="#111" >100</text>
<line x1="230.80" y1="368.50" x2="325.40" y2="261.00" stroke="#555" stroke-width="0.75" />
<polyline points="230.30,369.00 230.30,286.38 242.19,286.38 242.19,284.22 253.60,284.22 253.60,266.40 277.85,266.40 277.85,261.00 325.40,261.00" fill="none" stroke="#000" stroke-width="1.45" stroke-linejoin="miter" stroke-linecap="square"/>
<text transform="translate(209.5,312.1) rotate(-90)" font-size="8.45" font-weight="bold" text-anchor="middle" fill="#111">Sensitivity</text>
<text x="280.80" y="389.00" font-size="7.6" font-weight="bold" text-anchor="middle" fill="#111" >100-Specificity</text>
<text x="267.00" y="341.10" font-size="7.2" font-weight="bold" text-anchor="start" fill="#111" >AUC: 0.926</text>
<text x="267.00" y="349.90" font-size="7.2" font-weight="bold" text-anchor="start" fill="#111" >95% CI: 0.819&#8211;0.980</text>
<text x="267.00" y="358.70" font-size="7.2" font-weight="bold" text-anchor="start" fill="#111" ><tspan font-style="italic">P</tspan> &lt; 0.0001*</text>
<text x="426.60" y="254.00" font-size="9.0" font-weight="bold" text-anchor="middle" fill="#111" >PSA</text>
<line x1="381.70" y1="258.20" x2="381.70" y2="373.20" stroke="#111" stroke-width="1.0" />
<line x1="381.20" y1="372.50" x2="484.50" y2="372.50" stroke="#111" stroke-width="1.5" />
<line x1="381.70" y1="370.00" x2="384.70" y2="370.00" stroke="#111" stroke-width="1.3" />
<line x1="384.30" y1="372.50" x2="384.30" y2="369.50" stroke="#111" stroke-width="1.3" />
<line x1="381.70" y1="364.62" x2="384.30" y2="364.62" stroke="#111" stroke-width="1.0" />
<line x1="389.13" y1="372.50" x2="389.13" y2="370.60" stroke="#111" stroke-width="1.0" />
<line x1="381.70" y1="359.23" x2="384.30" y2="359.23" stroke="#111" stroke-width="1.0" />
<line x1="393.97" y1="372.50" x2="393.97" y2="370.60" stroke="#111" stroke-width="1.0" />
<line x1="381.70" y1="353.85" x2="384.30" y2="353.85" stroke="#111" stroke-width="1.0" />
<line x1="398.81" y1="372.50" x2="398.81" y2="370.60" stroke="#111" stroke-width="1.0" />
<line x1="381.70" y1="348.46" x2="384.70" y2="348.46" stroke="#111" stroke-width="1.3" />
<line x1="403.64" y1="372.50" x2="403.64" y2="369.50" stroke="#111" stroke-width="1.3" />
<line x1="381.70" y1="343.07" x2="384.30" y2="343.07" stroke="#111" stroke-width="1.0" />
<line x1="408.48" y1="372.50" x2="408.48" y2="370.60" stroke="#111" stroke-width="1.0" />
<line x1="381.70" y1="337.69" x2="384.30" y2="337.69" stroke="#111" stroke-width="1.0" />
<line x1="413.31" y1="372.50" x2="413.31" y2="370.60" stroke="#111" stroke-width="1.0" />
<line x1="381.70" y1="332.31" x2="384.30" y2="332.31" stroke="#111" stroke-width="1.0" />
<line x1="418.14" y1="372.50" x2="418.14" y2="370.60" stroke="#111" stroke-width="1.0" />
<line x1="381.70" y1="326.92" x2="384.70" y2="326.92" stroke="#111" stroke-width="1.3" />
<line x1="422.98" y1="372.50" x2="422.98" y2="369.50" stroke="#111" stroke-width="1.3" />
<line x1="381.70" y1="321.54" x2="384.30" y2="321.54" stroke="#111" stroke-width="1.0" />
<line x1="427.81" y1="372.50" x2="427.81" y2="370.60" stroke="#111" stroke-width="1.0" />
<line x1="381.70" y1="316.15" x2="384.30" y2="316.15" stroke="#111" stroke-width="1.0" />
<line x1="432.65" y1="372.50" x2="432.65" y2="370.60" stroke="#111" stroke-width="1.0" />
<line x1="381.70" y1="310.76" x2="384.30" y2="310.76" stroke="#111" stroke-width="1.0" />
<line x1="437.49" y1="372.50" x2="437.49" y2="370.60" stroke="#111" stroke-width="1.0" />
<line x1="381.70" y1="305.38" x2="384.70" y2="305.38" stroke="#111" stroke-width="1.3" />
<line x1="442.32" y1="372.50" x2="442.32" y2="369.50" stroke="#111" stroke-width="1.3" />
<line x1="381.70" y1="300.00" x2="384.30" y2="300.00" stroke="#111" stroke-width="1.0" />
<line x1="447.16" y1="372.50" x2="447.16" y2="370.60" stroke="#111" stroke-width="1.0" />
<line x1="381.70" y1="294.61" x2="384.30" y2="294.61" stroke="#111" stroke-width="1.0" />
<line x1="451.99" y1="372.50" x2="451.99" y2="370.60" stroke="#111" stroke-width="1.0" />
<line x1="381.70" y1="289.23" x2="384.30" y2="289.23" stroke="#111" stroke-width="1.0" />
<line x1="456.82" y1="372.50" x2="456.82" y2="370.60" stroke="#111" stroke-width="1.0" />
<line x1="381.70" y1="283.84" x2="384.70" y2="283.84" stroke="#111" stroke-width="1.3" />
<line x1="461.66" y1="372.50" x2="461.66" y2="369.50" stroke="#111" stroke-width="1.3" />
<line x1="381.70" y1="278.45" x2="383.60" y2="278.45" stroke="#111" stroke-width="1.0" />
<line x1="466.50" y1="372.50" x2="466.50" y2="370.60" stroke="#111" stroke-width="1.0" />
<line x1="381.70" y1="273.07" x2="383.60" y2="273.07" stroke="#111" stroke-width="1.0" />
<line x1="471.33" y1="372.50" x2="471.33" y2="370.60" stroke="#111" stroke-width="1.0" />
<line x1="381.70" y1="267.69" x2="383.60" y2="267.69" stroke="#111" stroke-width="1.0" />
<line x1="476.17" y1="372.50" x2="476.17" y2="370.60" stroke="#111" stroke-width="1.0" />
<line x1="381.70" y1="262.30" x2="384.70" y2="262.30" stroke="#111" stroke-width="1.3" />
<line x1="481.00" y1="372.50" x2="481.00" y2="369.50" stroke="#111" stroke-width="1.3" />
<text x="378.70" y="372.60" font-size="7.3" font-weight="bold" text-anchor="end" fill="#111" >0</text>
<text x="384.50" y="380.50" font-size="6.8" font-weight="bold" text-anchor="middle" fill="#111" >0</text>
<text x="378.70" y="351.06" font-size="7.3" font-weight="bold" text-anchor="end" fill="#111" >20</text>
<text x="403.84" y="380.50" font-size="6.8" font-weight="bold" text-anchor="middle" fill="#111" >20</text>
<text x="378.70" y="329.52" font-size="7.3" font-weight="bold" text-anchor="end" fill="#111" >40</text>
<text x="423.18" y="380.50" font-size="6.8" font-weight="bold" text-anchor="middle" fill="#111" >40</text>
<text x="378.70" y="307.98" font-size="7.3" font-weight="bold" text-anchor="end" fill="#111" >60</text>
<text x="442.52" y="380.50" font-size="6.8" font-weight="bold" text-anchor="middle" fill="#111" >60</text>
<text x="378.70" y="286.44" font-size="7.3" font-weight="bold" text-anchor="end" fill="#111" >80</text>
<text x="461.86" y="380.50" font-size="6.8" font-weight="bold" text-anchor="middle" fill="#111" >80</text>
<text x="378.70" y="264.90" font-size="7.3" font-weight="bold" text-anchor="end" fill="#111" >100</text>
<text x="481.20" y="380.50" font-size="6.8" font-weight="bold" text-anchor="middle" fill="#111" >100</text>
<line x1="384.80" y1="369.50" x2="481.00" y2="262.30" stroke="#555" stroke-width="0.75" />
<polyline points="384.30,370.00 384.30,282.76 408.48,282.76 408.48,275.22 468.91,275.22 468.91,269.84 481.00,269.84 481.00,262.30" fill="none" stroke="#000" stroke-width="1.45" stroke-linejoin="miter" stroke-linecap="square"/>
<text transform="translate(363.9,314.1) rotate(-90)" font-size="7.6" font-weight="bold" text-anchor="middle" fill="#111">Sensitivity</text>
<text x="436.50" y="390.70" font-size="7.6" font-weight="bold" text-anchor="middle" fill="#111" >100-Specificity</text>
<text x="423.90" y="341.20" font-size="7.2" font-weight="bold" text-anchor="start" fill="#111" >AUC: 0.869</text>
<text x="423.90" y="350.00" font-size="7.2" font-weight="bold" text-anchor="start" fill="#111" >95% CI: 0.744&#8211;0.948</text>
<text x="423.90" y="358.80" font-size="7.2" font-weight="bold" text-anchor="start" fill="#111" ><tspan font-style="italic">P</tspan> &lt; 0.0001*</text>
<line x1="261.80" y1="396.60" x2="261.80" y2="428.00" stroke="#a0a0a0" stroke-width="0.9" />
<line x1="305.30" y1="396.60" x2="305.30" y2="428.00" stroke="#a0a0a0" stroke-width="0.9" />
<line x1="261.80" y1="407.40" x2="354.60" y2="407.40" stroke="#a0a0a0" stroke-width="0.9" />
<text x="265.00" y="404.30" font-size="7.75" font-weight="normal" text-anchor="start" fill="#333333" >Estimate</text>
<text x="309.00" y="404.30" font-size="7.75" font-weight="normal" text-anchor="start" fill="#333333" >95% CI</text>
<text x="255.20" y="413.90" font-size="7.75" font-weight="normal" text-anchor="end" fill="#333333" >Sensitivity</text>
<text x="255.20" y="424.00" font-size="7.75" font-weight="normal" text-anchor="end" fill="#333333" >Specificity</text>
<text x="265.00" y="413.90" font-size="7.75" font-weight="normal" text-anchor="start" fill="#333333" >75%</text>
<text x="309.00" y="413.90" font-size="7.75" font-weight="normal" text-anchor="start" fill="#333333" >59.7&#8211;86.8%</text>
<text x="265.00" y="424.00" font-size="7.75" font-weight="normal" text-anchor="start" fill="#333333" >100%</text>
<text x="310.00" y="424.00" font-size="7.75" font-weight="normal" text-anchor="start" fill="#333333" >63.1&#8211;100%</text>
<line x1="427.10" y1="396.60" x2="427.10" y2="428.00" stroke="#a0a0a0" stroke-width="0.9" />
<line x1="470.30" y1="396.60" x2="470.30" y2="428.00" stroke="#a0a0a0" stroke-width="0.9" />
<line x1="427.10" y1="408.20" x2="515.00" y2="408.20" stroke="#a0a0a0" stroke-width="0.9" />
<text x="429.80" y="404.80" font-size="7.75" font-weight="normal" text-anchor="start" fill="#333333" >Estimate</text>
<text x="473.70" y="404.80" font-size="7.75" font-weight="normal" text-anchor="start" fill="#333333" >95% CI</text>
<text x="420.50" y="414.60" font-size="7.75" font-weight="normal" text-anchor="end" fill="#333333" >Sensitivity</text>
<text x="420.50" y="424.60" font-size="7.75" font-weight="normal" text-anchor="end" fill="#333333" >Specificity</text>
<text x="429.80" y="414.60" font-size="7.75" font-weight="normal" text-anchor="start" fill="#333333" >81%</text>
<text x="473.70" y="414.60" font-size="7.75" font-weight="normal" text-anchor="start" fill="#333333" >65.9&#8211;91.4%</text>
<text x="429.80" y="424.60" font-size="7.75" font-weight="normal" text-anchor="start" fill="#333333" >100%</text>
<text x="474.70" y="424.60" font-size="7.75" font-weight="normal" text-anchor="start" fill="#333333" >63.1&#8211;100%</text>
</svg>
</body></html>
